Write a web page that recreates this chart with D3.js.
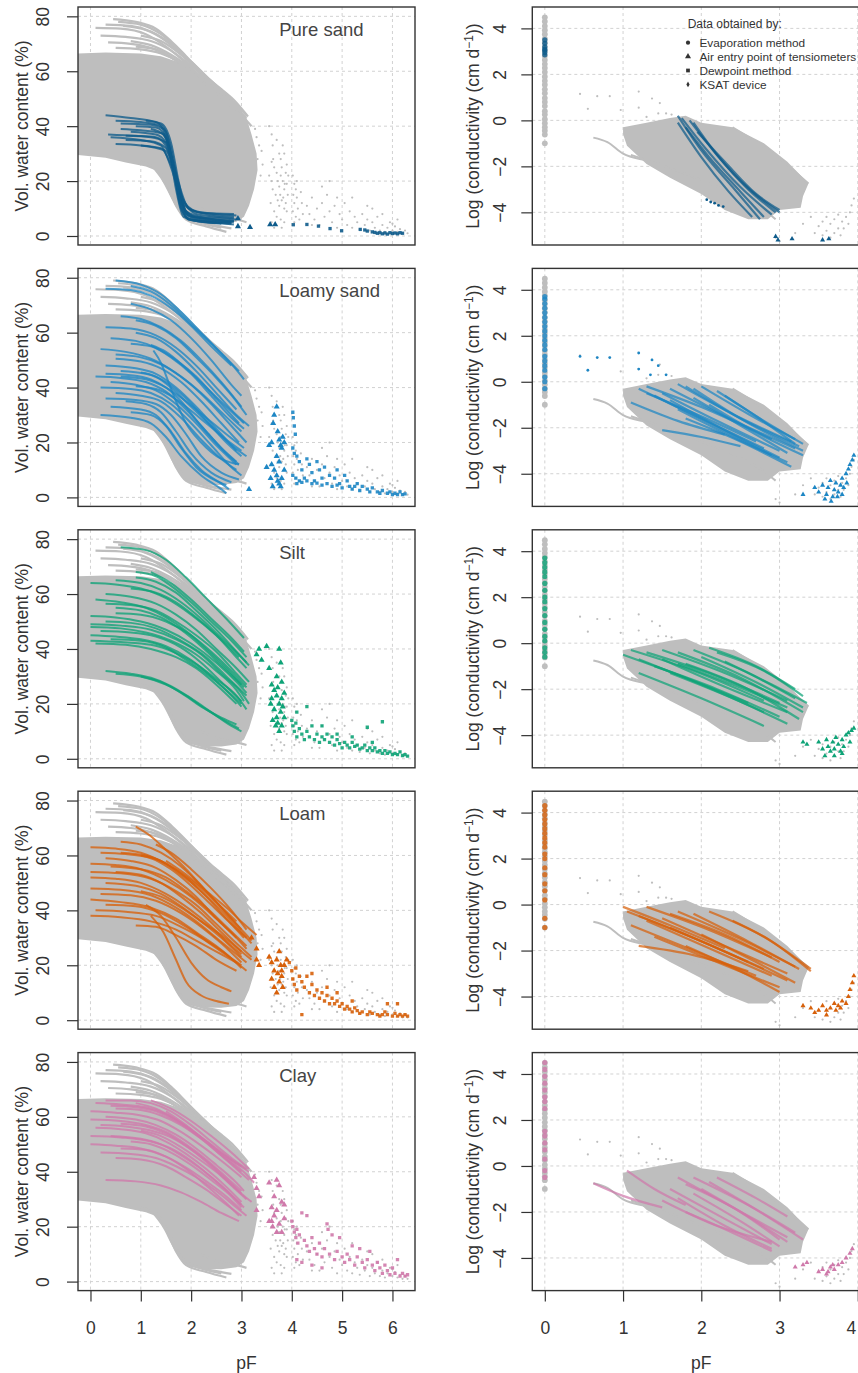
<!DOCTYPE html>
<html>
<head>
<meta charset="utf-8">
<script src="https://cdn.jsdelivr.net/npm/d3@7"></script>
<style>
  body { margin: 0; background: #fff; }
  svg { display: block; font-family: "Liberation Sans", Arial, sans-serif; }
</style>
</head>
<body>
<svg id="chart" width="858" height="1373"></svg>
<script>
// ---- tick labels and categories ----
const soilNames = ['Pure sand', 'Loamy sand', 'Silt', 'Loam', 'Clay']
const soilColors = ['#0e5b8b', '#1d86c4', '#0ea377', '#d7600a', '#cf79aa']
const pFTicksLeft = [0, 1, 2, 3, 4, 5, 6]
const thetaTicks = [0, 20, 40, 60, 80]
const pFTicksRight = [0, 1, 2, 3, 4]
const logKTicks = [-4, -2, 0, 2, 4]
const legendLabels = ['Evaporation method', 'Air entry point of tensiometers', 'Dewpoint method', 'KSAT device']

// ---- all soils (grey background), retention: [pF, theta %] ----
const greyRetentionBand = [[-0.25, 66.5], [0.3, 66.8], [1.0, 66.5], [1.4, 65.5], [1.8, 63], [2.2, 58], [2.6, 52], [2.9, 47], [3.1, 43], [3.2, 37], [3.3, 30], [3.32, 24], [3.25, 17], [3.15, 11], [3.05, 7], [2.9, 5.2], [2.6, 4.5], [2.2, 4.6], [1.95, 5.5], [1.8, 8], [1.65, 13], [1.5, 19], [1.35, 23.5], [1.1, 25.3], [0.7, 26.8], [0.3, 28.5], [-0.25, 29.5]]
const greyRetentionCurves = [
  [[0.45, 79], [0.9, 78], [1.3, 75.5], [1.6, 71], [1.9, 65.5], [2.3, 58], [2.6, 53.5], [2.85, 49.5], [3.13, 43.5]],
  [[0.55, 78], [1.0, 77], [1.4, 73.5], [1.8, 67], [2.2, 59.5], [2.6, 52.5], [2.95, 46]],
  [[0.1, 75.8], [0.6, 75.5], [1.1, 73.5], [1.5, 69], [1.9, 63], [2.3, 56], [2.7, 49], [3.05, 42]],
  [[0.65, 76.5], [1.1, 75], [1.5, 71], [1.9, 64.5], [2.3, 57], [2.75, 49], [3.0, 45]],
  [[0.35, 70.5], [0.8, 70], [1.2, 68.5], [1.6, 65], [2.0, 60], [2.4, 54], [2.8, 47]],
  [[0.8, 71], [1.2, 69.5], [1.6, 66], [2.1, 59.5], [2.6, 51], [3.0, 44.5]],
  [[0.9, 69], [1.3, 68], [1.7, 64], [2.1, 58], [2.5, 52], [2.9, 46], [3.2, 40]],
  [[0.2, 73], [0.7, 72.5], [1.2, 71], [1.6, 67.5], [2.0, 62], [2.4, 55.5], [2.8, 48.5], [3.1, 43]],
  [[0.5, 68.5], [1.0, 68], [1.4, 66.5], [1.8, 63], [2.2, 57.5], [2.6, 51], [3.0, 44]],
  [[1.0, 73], [1.4, 71], [1.8, 66], [2.2, 59.5], [2.6, 52], [3.0, 45]],
  [[0.3, 77], [0.8, 76.5], [1.2, 74.5], [1.6, 70], [2.0, 63.5], [2.4, 56.5], [2.8, 49.5], [3.1, 44]],
  [[1.3, 25], [1.5, 19], [1.7, 11], [1.9, 6], [2.3, 3.5], [2.7, 1.5]],
  [[1.2, 26], [1.45, 20], [1.65, 13], [1.85, 7.5], [2.2, 4.8], [2.6, 3]],
  [[1.0, 27], [1.35, 24], [1.6, 16], [1.8, 9], [2.1, 5.5], [2.5, 3.8], [2.8, 2.8]],
  [[2.2, 10], [2.6, 7], [2.9, 6], [3.1, 5]]
]
const greyRetentionPoints = [
  [3.27, 39], [3.3, 36], [3.35, 33], [3.4, 31], [3.32, 28], [3.42, 26], [3.38, 22],
  [3.55, 40], [3.6, 37], [3.62, 33], [3.7, 35], [3.75, 30], [3.78, 28], [3.82, 33], [3.85, 30], [3.6, 27], [3.65, 25], [3.7, 23], [3.72, 20], [3.75, 18], [3.78, 22], [3.8, 25], [3.82, 20], [3.85, 17], [3.88, 23], [3.9, 19], [3.92, 15], [3.6, 20], [3.62, 17], [3.68, 15], [3.72, 13], [3.75, 11], [3.8, 13], [3.85, 10], [3.88, 12], [3.9, 9], [3.58, 12], [3.65, 9], [3.7, 7], [3.78, 6], [3.85, 5], [3.6, 5], [3.65, 3], [3.8, 3], [3.55, 22], [3.63, 28], [3.77, 15], [3.83, 14], [3.86, 19], [3.9, 26], [3.93, 22],
  [4.02, 22], [4.05, 19], [4.08, 17], [4.03, 15], [4.1, 14], [4.05, 12], [4.12, 10], [4.02, 9], [4.08, 7], [4.15, 6], [4.05, 5], [4.2, 12], [4.22, 8], [4.18, 16], [4.1, 20],
  [4.3, 11], [4.35, 8], [4.4, 14], [4.45, 6], [4.5, 10], [4.55, 4], [4.6, 12], [4.65, 7], [4.7, 15], [4.75, 9], [4.8, 5], [4.85, 11], [4.9, 3], [4.95, 8], [5.0, 6], [5.05, 12], [5.1, 4], [5.15, 9], [5.2, 3], [5.25, 7], [5.3, 5], [5.35, 2.5], [5.4, 8], [5.45, 4], [5.5, 6], [5.55, 2], [5.6, 5], [5.65, 3], [5.7, 7], [5.75, 2], [5.8, 4], [5.85, 1.5], [5.9, 3], [5.95, 5], [6.0, 2], [6.05, 3.5], [6.1, 1.5], [6.15, 2.5], [6.2, 1], [6.25, 2], [6.3, 1], [4.75, 20], [4.6, 18], [5.2, 14], [5.5, 11], [5.8, 8], [6.1, 6], [4.4, 4], [4.9, 14], [5.6, 10], [6.0, 4.5]
]

// ---- all soils (grey background), conductivity: [pF, log K] ----
const greyKsat = [-1.0, -0.62, -0.45, -0.3, -0.12, 0.05, 0.25, 0.4, 0.62, 0.8, 0.97, 1.18, 1.35, 1.55, 1.72, 1.9, 2.1, 2.28, 2.45, 2.63, 2.8, 3.02, 3.2, 3.38, 3.55, 3.75, 3.92, 4.1, 4.3, 4.48]
const greyCondBand = [[1.0, -0.3], [1.3, -0.1], [1.6, 0.1], [1.8, 0.2], [2.0, -0.1], [2.4, -0.3], [2.8, -1.0], [3.1, -1.8], [3.37, -2.75], [3.3, -3.3], [3.27, -3.8], [3.0, -3.9], [2.85, -4.3], [2.6, -4.3], [2.3, -3.9], [2.0, -3.2], [1.6, -2.5], [1.3, -1.9], [1.05, -1.1], [1.0, -0.6]]
const greyCondLines = [
  [[0.62, -0.75], [0.8, -0.95], [1.0, -1.45], [1.3, -1.75], [1.55, -1.95]],
  [[2.4, -0.3], [2.9, -1.4], [3.37, -2.75]],
  [[1.1, -1.5], [2.0, -2.6], [2.8, -3.9], [2.95, -4.3]]
]
const greyCondPoints = [
  [0.45, 1.15], [0.55, 0.5], [0.67, 1.05], [0.83, 1.05], [0.97, 0.45], [1.2, 1.25], [1.2, 0.55], [1.37, 0.95], [1.47, 0.75], [1.45, 0.3], [1.55, 0.3], [1.62, 0.25], [1.3, 0.15],
  [3.5, -4.6], [3.55, -4.4], [3.6, -4.8], [3.65, -4.5], [3.7, -4.3], [3.75, -4.7], [3.8, -4.4], [3.85, -4.2], [3.9, -4.0], [3.92, -3.7], [3.95, -3.4], [3.55, -5.0], [3.65, -5.1], [3.7, -4.9], [3.78, -5.0], [3.82, -4.7], [3.88, -4.5], [3.4, -4.2], [3.3, -4.5], [3.45, -4.9], [2.95, -5.1], [3.0, -5.25], [3.2, -4.9], [3.6, -4.2], [3.75, -4.1]
]

// ---- Pure sand ----
const pureSandCurves = [
  [[0.3, 44], [0.8, 43], [1.3, 41.5], [1.5, 38], [1.65, 25], [1.8, 10], [2.0, 6], [2.8, 5]],
  [[0.5, 42], [1.0, 41.5], [1.35, 40.5], [1.55, 33], [1.7, 17], [1.85, 7], [2.3, 5], [2.8, 4.5]],
  [[0.6, 39], [1.0, 38.5], [1.4, 37.5], [1.6, 30], [1.75, 14], [1.95, 6], [2.5, 4.8], [2.85, 4.2]],
  [[0.35, 37], [0.9, 36.5], [1.3, 36], [1.55, 31], [1.75, 16], [1.95, 7.5], [2.4, 6], [2.85, 5.5]],
  [[0.7, 35], [1.2, 34.5], [1.5, 32], [1.65, 24], [1.8, 12], [2.0, 7], [2.5, 6], [2.85, 5]],
  [[0.9, 40], [1.3, 39.5], [1.5, 36], [1.7, 22], [1.9, 9], [2.2, 6], [2.8, 5]],
  [[0.4, 36], [1.0, 35], [1.4, 33], [1.6, 25], [1.8, 14], [2.1, 9], [2.5, 8], [2.9, 7.5]],
  [[1.0, 33], [1.4, 32], [1.6, 26], [1.85, 13], [2.1, 8], [2.5, 7], [2.85, 6.5]],
  [[0.6, 41], [1.2, 40.5], [1.45, 39], [1.6, 32], [1.75, 18], [1.9, 8], [2.2, 5.5], [2.8, 4.8]],
  [[0.8, 38], [1.3, 37], [1.5, 34], [1.7, 21], [1.85, 10], [2.1, 7], [2.6, 6.5], [2.9, 6]],
  [[1.1, 42], [1.4, 41], [1.6, 34], [1.75, 20], [1.9, 9], [2.3, 6.5], [2.85, 5.5]],
  [[0.5, 33.5], [1.0, 33], [1.5, 31], [1.7, 22], [1.95, 10], [2.3, 8], [2.85, 7]],
  [[1.2, 39], [1.45, 37], [1.62, 28], [1.78, 13], [1.95, 6], [2.6, 4.5]],
  [[0.7, 36.5], [1.2, 36], [1.5, 34], [1.68, 24], [1.88, 11], [2.2, 8.5], [2.85, 8]]
]
const pureSandAirEntry = [[2.93, 6.4], [2.93, 3.5], [3.17, 3.2], [3.57, 4.2], [3.67, 4.2]]
const pureSandDewpoint = [[4.03, 4.1], [4.3, 4.2], [4.53, 3.6], [4.76, 2.7], [4.99, 1.9], [5.36, 2.4], [5.45, 2.2], [5.5, 1.8], [5.6, 1.5], [5.65, 1.3], [5.7, 1], [5.75, 1.2], [5.8, 0.8], [5.85, 1.1], [5.9, 0.7], [5.95, 1.2], [6.0, 0.9], [6.05, 1.1], [6.1, 0.8], [6.15, 1.2], [6.2, 1]]
const pureSandKsat = [2.85, 2.95, 3.05, 3.1, 3.2, 3.35, 3.5]
const pureSandCondLines = [
  [[1.7, 0.2], [2.0, -1.3], [2.4, -2.9], [2.75, -4.3]],
  [[1.75, 0.1], [2.05, -1.2], [2.5, -2.9], [2.9, -4.1]],
  [[1.85, 0.0], [2.15, -1.3], [2.6, -3.0], [2.95, -4.0]],
  [[1.8, -0.3], [2.1, -1.6], [2.5, -3.1], [2.8, -4.2]],
  [[1.95, -0.5], [2.3, -1.8], [2.7, -3.2], [3.0, -3.9]],
  [[1.7, -0.1], [2.0, -1.6], [2.35, -3.1], [2.65, -4.2]],
  [[1.9, -0.1], [2.2, -1.5], [2.65, -3.1], [3.0, -4.0]]
]
const pureSandCondPoints = [[2.07, -3.45], [2.12, -3.55], [2.17, -3.6], [2.22, -3.7], [2.28, -3.75], [2.95, -5.05], [2.98, -5.2], [3.16, -5.15], [3.55, -5.2], [3.63, -5.15]]

// ---- Loamy sand ----
const loamySandCurves = [
  [[0.5, 79], [1.0, 77.5], [1.4, 74], [1.8, 67.5], [2.2, 60], [2.6, 52.5], [2.95, 46]],
  [[0.3, 76], [0.8, 75.5], [1.2, 73.5], [1.6, 69], [2.0, 62.5], [2.4, 55], [2.8, 48]],
  [[0.8, 77], [1.2, 75], [1.6, 70], [2.0, 63], [2.4, 56], [2.85, 47.5], [3.05, 43]],
  [[0.8, 70.5], [1.2, 68.5], [1.6, 64.5], [2.0, 58], [2.4, 50], [2.8, 41], [3.0, 37]],
  [[0.6, 66], [1.0, 65], [1.4, 62], [1.8, 57], [2.2, 50], [2.6, 42], [3.0, 33]],
  [[0.9, 64.5], [1.3, 62.5], [1.7, 58], [2.1, 51], [2.5, 43.5], [2.9, 35], [3.1, 30]],
  [[0.3, 62], [0.8, 61.5], [1.3, 59], [1.7, 54.5], [2.1, 48], [2.5, 40], [2.9, 32]],
  [[0.4, 58], [0.9, 57], [1.3, 54.5], [1.7, 50], [2.1, 44], [2.5, 36], [2.95, 27]],
  [[0.8, 56], [1.2, 55], [1.6, 51], [2.0, 45], [2.4, 37], [2.8, 29], [3.05, 25]],
  [[0.2, 54], [0.7, 53], [1.2, 50.5], [1.6, 46.5], [2.0, 41], [2.4, 34], [2.8, 26], [3.1, 20]],
  [[0.5, 50.5], [1.0, 49.5], [1.4, 47], [1.8, 42], [2.2, 35], [2.6, 27], [2.95, 20]],
  [[1.25, 53.5], [1.4, 49], [1.55, 42], [1.7, 35], [1.9, 27], [2.2, 20], [2.6, 14], [2.95, 12]],
  [[0.3, 48], [0.9, 47], [1.3, 45], [1.7, 40], [2.1, 33], [2.5, 25], [2.9, 17]],
  [[0.6, 46], [1.1, 45], [1.5, 42], [1.9, 36], [2.3, 28], [2.7, 20], [3.0, 15]],
  [[0.1, 44], [0.6, 43.5], [1.1, 42], [1.5, 38.5], [1.9, 32], [2.3, 24], [2.7, 16], [2.95, 12]],
  [[0.4, 42], [0.9, 41], [1.3, 39], [1.7, 34], [2.1, 27], [2.5, 19], [2.9, 12]],
  [[0.2, 40], [0.8, 39.5], [1.2, 38], [1.6, 34], [2.0, 27], [2.4, 19], [2.8, 11], [3.0, 8]],
  [[0.5, 38], [1.0, 37], [1.4, 35], [1.8, 29], [2.2, 21], [2.6, 14], [2.9, 10]],
  [[0.3, 36], [0.9, 35.5], [1.3, 34], [1.6, 30], [1.9, 23], [2.2, 15], [2.6, 9], [2.95, 6.5]],
  [[0.7, 35], [1.1, 34], [1.4, 31], [1.7, 24], [2.0, 16], [2.4, 9], [2.8, 5.5]],
  [[0.4, 33], [1.0, 32], [1.3, 30], [1.6, 24], [1.9, 16], [2.2, 10], [2.6, 5], [2.75, 3]],
  [[0.8, 31], [1.2, 30], [1.5, 26], [1.8, 18], [2.1, 11], [2.5, 6], [2.7, 4.5]],
  [[0.2, 30], [0.8, 29], [1.2, 27], [1.5, 22], [1.8, 15], [2.2, 8], [2.6, 3], [2.7, 1.5]],
  [[1.0, 45.5], [1.3, 44], [1.6, 40], [2.0, 33], [2.4, 26], [2.8, 19], [3.1, 15]],
  [[0.6, 44], [1.1, 43], [1.5, 40], [1.9, 35], [2.3, 29], [2.7, 23], [3.05, 18]],
  [[0.9, 60], [1.3, 58], [1.7, 53], [2.1, 46], [2.5, 38], [2.9, 30], [3.15, 26]],
  [[0.5, 52], [1.0, 51], [1.4, 48.5], [1.8, 44], [2.2, 38], [2.6, 31], [3.0, 24]],
  [[0.9, 40.5], [1.3, 39.5], [1.6, 37], [1.9, 33], [2.3, 27], [2.7, 21], [3.0, 17]],
  [[0.3, 45], [0.8, 44.5], [1.2, 43], [1.5, 40], [1.8, 35], [2.2, 26], [2.6, 18], [2.9, 13]],
  [[1.2, 55.5], [1.5, 53], [1.9, 47], [2.3, 40], [2.7, 33], [3.05, 27]]
]
const loamySandAirEntry = [[3.15, 3], [3.5, 11], [3.55, 19], [3.6, 20], [3.63, 27], [3.65, 30], [3.7, 33], [3.72, 24], [3.75, 21], [3.78, 19], [3.8, 18], [3.82, 22], [3.85, 20], [3.6, 12], [3.65, 10], [3.7, 8], [3.72, 6], [3.75, 5], [3.78, 4], [3.8, 7], [3.85, 10], [3.7, 15], [3.75, 13], [3.58, 7], [3.62, 4]]
const loamySandDewpoint = [[4.02, 31], [4.03, 29], [4.05, 26], [4.07, 23], [4.02, 18], [4.05, 16], [4.1, 15], [4.15, 13], [4.02, 8], [4.08, 7], [4.15, 6], [4.2, 10], [4.25, 7], [4.3, 14], [4.35, 12], [4.4, 9], [4.45, 6], [4.5, 13], [4.55, 10], [4.6, 7], [4.65, 11], [4.7, 5], [4.75, 8], [4.8, 4], [4.85, 7], [4.9, 10], [4.95, 5], [5.0, 3.5], [5.05, 8], [5.1, 6], [5.15, 4], [5.2, 3], [5.3, 5], [5.35, 2.5], [5.4, 4], [5.5, 3], [5.55, 2], [5.6, 3.5], [5.7, 2], [5.75, 1.5], [5.8, 2.5], [5.9, 1.5], [5.95, 2], [6.0, 1], [6.05, 1.5], [6.1, 1], [6.15, 2], [6.2, 1], [6.25, 1.3], [4.1, 5], [4.2, 5.5], [4.4, 5], [4.6, 4.5], [4.9, 4.5], [5.25, 4], [4.3, 6], [4.5, 5.2]]
const loamySandKsat = [-0.3, 0.0, 0.2, 0.5, 0.7, 0.9, 1.1, 1.4, 1.6, 1.8, 2.0, 2.2, 2.4, 2.6, 2.8, 3.0, 3.2, 3.4, 3.6, 3.7]
const loamySandCondLines = [
  [[1.6, -0.3], [2.3, -1.5], [3.2, -2.9]],
  [[1.7, -0.1], [2.4, -1.4], [3.15, -2.6]],
  [[1.5, -0.5], [2.2, -1.7], [3.0, -3.0]],
  [[1.4, -0.6], [2.1, -1.8], [2.9, -3.2]],
  [[1.8, -0.2], [2.5, -1.6], [3.25, -2.8]],
  [[1.9, -0.3], [2.6, -1.8], [3.3, -3.0]],
  [[1.2, -0.3], [2.0, -1.6], [2.8, -2.9]],
  [[1.3, -0.5], [2.0, -1.5], [2.7, -2.6]],
  [[1.1, -0.9], [1.7, -1.7], [2.3, -2.3]],
  [[1.5, -2.1], [2.0, -2.4], [2.5, -2.8]],
  [[2.0, -0.2], [2.6, -1.4], [3.2, -2.5]],
  [[1.6, -0.8], [2.3, -2.1], [3.0, -3.3]],
  [[1.7, -1.2], [2.4, -2.4], [3.1, -3.5]],
  [[2.2, -0.4], [2.7, -1.5], [3.2, -2.7]],
  [[1.3, -0.2], [2.0, -1.1], [2.9, -2.5]],
  [[1.8, -1.6], [2.5, -2.6], [3.15, -3.7]],
  [[2.1, -1.0], [2.7, -2.2], [3.3, -3.2]],
  [[1.9, -0.7], [2.5, -1.9], [3.1, -3.1]],
  [[2.3, -0.6], [2.8, -1.7], [3.3, -2.7]]
]
const loamySandCondPoints = [[0.45, 1.1], [0.55, 0.5], [0.67, 1.05], [0.83, 1.05], [1.2, 1.25], [1.2, 0.55], [1.37, 0.95], [1.45, 0.7], [1.35, 0.3], [1.55, 0.3], [3.45, -4.6], [3.5, -4.8], [3.55, -4.5], [3.6, -4.9], [3.62, -4.6], [3.65, -4.3], [3.68, -5.0], [3.7, -4.7], [3.72, -4.4], [3.75, -4.8], [3.78, -4.5], [3.8, -4.2], [3.82, -4.6], [3.85, -4.0], [3.88, -3.8], [3.9, -3.6], [3.93, -3.4], [3.95, -3.2], [3.3, -4.9], [3.58, -5.1], [3.66, -5.2], [3.74, -5.0], [3.8, -4.9], [3.86, -4.4]]

// ---- Silt ----
const siltCurves = [
  [[0.6, 77], [1.1, 76], [1.5, 72.5], [1.9, 66], [2.3, 58.5], [2.7, 51], [3.05, 44]],
  [[0.9, 68], [1.3, 66.5], [1.6, 63], [2.0, 57], [2.4, 50], [2.8, 43], [3.1, 37]],
  [[0.5, 65], [1.0, 64], [1.4, 61.5], [1.8, 57], [2.2, 51], [2.6, 44], [3.0, 37], [3.15, 34]],
  [[0.0, 64], [0.5, 63.5], [1.0, 62], [1.5, 58.5], [2.0, 52.5], [2.5, 45], [2.95, 37]],
  [[0.3, 60], [0.8, 59], [1.3, 56.5], [1.7, 52.5], [2.1, 47], [2.5, 40], [2.9, 33], [3.15, 28]],
  [[0.1, 58], [0.6, 57], [1.1, 55], [1.5, 51.5], [1.9, 46.5], [2.3, 40], [2.7, 33], [3.05, 26]],
  [[0.5, 55], [1.0, 54], [1.4, 51.5], [1.8, 47], [2.2, 41], [2.6, 34], [3.0, 27]],
  [[0.0, 52], [0.5, 51.5], [1.0, 50], [1.5, 47], [2.0, 42], [2.5, 35], [2.9, 28], [3.1, 24]],
  [[0.3, 50], [0.8, 49.5], [1.3, 47.5], [1.8, 43], [2.3, 37], [2.7, 30], [3.1, 23]],
  [[0.0, 48], [0.6, 47.5], [1.1, 46], [1.6, 43], [2.1, 38], [2.5, 32], [2.9, 25], [3.05, 21]],
  [[0.2, 46.5], [0.8, 46], [1.3, 44.5], [1.8, 40.5], [2.2, 35], [2.6, 28], [3.0, 21]],
  [[0.0, 45], [0.5, 44.5], [1.0, 43.5], [1.5, 41], [2.0, 36], [2.4, 30], [2.8, 23], [3.0, 19]],
  [[0.4, 43.5], [1.0, 43], [1.5, 40.5], [1.9, 36], [2.3, 31], [2.7, 25], [3.0, 20]],
  [[0.1, 42], [0.7, 41.5], [1.2, 40], [1.7, 37], [2.1, 33], [2.5, 27], [2.9, 20]],
  [[0.3, 32], [0.8, 31], [1.2, 29.5], [1.6, 26.5], [2.0, 22], [2.4, 17], [2.8, 12], [3.0, 10]],
  [[0.5, 31], [1.0, 30], [1.5, 27], [1.9, 23], [2.3, 18], [2.7, 13.5], [2.95, 11]],
  [[1.0, 30], [1.4, 28], [1.8, 24], [2.2, 19], [2.6, 15], [2.9, 12.5]],
  [[0.3, 56.5], [0.8, 56], [1.3, 54], [1.7, 50], [2.1, 45], [2.5, 39], [2.9, 31], [3.1, 27]],
  [[0.9, 66], [1.3, 64.5], [1.7, 60.5], [2.1, 54], [2.5, 47], [2.9, 39], [3.1, 35]],
  [[1.2, 68], [1.6, 64], [2.0, 58], [2.4, 51], [2.8, 44], [3.05, 39]],
  [[0.0, 49], [0.6, 48.5], [1.2, 47], [1.7, 43.5], [2.2, 38], [2.6, 31], [3.0, 24], [3.15, 20]],
  [[0.0, 43], [0.6, 42.5], [1.2, 41.5], [1.7, 38.5], [2.1, 34.5], [2.5, 29], [2.9, 23], [3.1, 18]],
  [[0.5, 53], [1.0, 52.5], [1.5, 50], [2.0, 45], [2.4, 39], [2.8, 32], [3.1, 26]],
  [[0.8, 62], [1.3, 60.5], [1.7, 57], [2.1, 51.5], [2.5, 45], [2.9, 37], [3.1, 33]]
]
const siltAirEntry = [[3.3, 38], [3.35, 40], [3.4, 36], [3.5, 41], [3.55, 33], [3.6, 27], [3.65, 25], [3.7, 30], [3.75, 40], [3.78, 35], [3.8, 28], [3.6, 22], [3.65, 18], [3.7, 15], [3.72, 13], [3.75, 20], [3.78, 17], [3.8, 22], [3.82, 19], [3.85, 24], [3.62, 14], [3.68, 12], [3.75, 10], [3.8, 12], [3.85, 15], [3.7, 23], [3.58, 20], [3.72, 26]]
const siltDewpoint = [[4.0, 14], [4.02, 12], [4.05, 10], [4.08, 13], [4.1, 8], [4.15, 11], [4.2, 9], [4.25, 7], [4.3, 10], [4.35, 8], [4.4, 12], [4.45, 7], [4.5, 9], [4.55, 6], [4.6, 8], [4.65, 7], [4.7, 9], [4.75, 6], [4.8, 8], [4.85, 5], [4.9, 7], [4.95, 5.5], [5.0, 4], [5.05, 6], [5.1, 5], [5.15, 4], [5.2, 6], [5.25, 4.5], [5.3, 5], [5.35, 3.5], [5.4, 4], [5.45, 5], [5.5, 3], [5.55, 4], [5.6, 3], [5.65, 4], [5.7, 2.5], [5.75, 3], [5.8, 13.5], [5.8, 2], [5.85, 3], [5.9, 2], [5.95, 2.5], [6.0, 1.5], [6.05, 2], [6.1, 1.5], [6.15, 2.5], [6.2, 1.2], [6.25, 1.5], [6.3, 1], [5.5, 11.5], [4.3, 19], [4.1, 17], [4.6, 12], [4.9, 9], [5.6, 6], [5.2, 8]]
const siltKsat = [-0.6, -0.4, -0.2, 0.1, 0.3, 0.6, 0.9, 1.2, 1.5, 1.8, 2.0, 2.3, 2.6, 2.9, 3.1, 3.3, 3.5, 3.7]
const siltCondLines = [
  [[1.0, -0.5], [1.8, -1.5], [2.6, -2.6]],
  [[1.1, -0.3], [1.9, -1.2], [2.8, -2.5]],
  [[1.2, -0.7], [2.0, -1.8], [2.8, -3.0]],
  [[1.3, -0.4], [2.1, -1.3], [3.0, -2.6]],
  [[1.5, -0.3], [2.3, -1.3], [3.1, -2.5]],
  [[1.7, -0.4], [2.5, -1.5], [3.3, -3.0]],
  [[1.9, -0.3], [2.6, -1.3], [3.2, -2.4]],
  [[2.2, -0.4], [2.8, -1.2], [3.3, -2.3]],
  [[1.4, -1.0], [2.2, -2.0], [3.0, -3.2]],
  [[1.6, -1.3], [2.4, -2.4], [3.1, -3.5]],
  [[1.2, -1.3], [2.0, -2.4], [2.8, -3.6]],
  [[1.8, -0.9], [2.6, -2.0], [3.25, -3.3]],
  [[2.0, -0.6], [2.7, -1.7], [3.3, -2.8]],
  [[1.5, -0.7], [2.3, -1.9], [3.1, -3.0]],
  [[2.3, -0.8], [2.9, -1.8], [3.35, -2.6]],
  [[1.7, -0.9], [2.4, -1.8], [3.1, -2.8]],
  [[2.1, -0.2], [2.7, -1.0], [3.2, -2.0]]
]
const siltCondPoints = [[3.3, -4.3], [3.35, -4.4], [3.5, -4.3], [3.55, -4.6], [3.6, -4.2], [3.62, -4.5], [3.65, -4.7], [3.68, -4.3], [3.7, -4.6], [3.72, -4.1], [3.75, -4.4], [3.78, -4.7], [3.8, -4.2], [3.82, -4.5], [3.85, -4.0], [3.88, -3.9], [3.9, -4.3], [3.92, -3.8], [3.95, -3.7], [3.58, -4.9], [3.7, -4.9], [3.8, -4.8]]

// ---- Loam ----
const loamCurves = [
  [[0.9, 70.5], [1.2, 67], [1.5, 62], [1.9, 55], [2.3, 47], [2.7, 39], [3.0, 33]],
  [[0.6, 65], [1.0, 64], [1.4, 61], [1.8, 56], [2.2, 49], [2.6, 41], [3.0, 33], [3.2, 29]],
  [[0.0, 63], [0.5, 62.5], [1.0, 61], [1.5, 57], [2.0, 51], [2.5, 43], [2.9, 36]],
  [[1.0, 60], [1.4, 58], [1.8, 53], [2.2, 47], [2.6, 40], [3.0, 32], [3.2, 28]],
  [[0.3, 59], [0.8, 58], [1.3, 55.5], [1.7, 51], [2.1, 45], [2.5, 37], [2.9, 30], [3.1, 26]],
  [[0.0, 57], [0.5, 56.5], [1.0, 55], [1.5, 51], [2.0, 45], [2.5, 37], [2.9, 30]],
  [[0.5, 54], [1.0, 53], [1.4, 50], [1.8, 45], [2.2, 39], [2.6, 32], [3.0, 25]],
  [[0.0, 52], [0.5, 51.5], [1.0, 50], [1.5, 46], [2.0, 40], [2.4, 34], [2.8, 27], [3.0, 24]],
  [[0.3, 50], [0.9, 49], [1.4, 46], [1.8, 41.5], [2.2, 36], [2.6, 30], [3.0, 23]],
  [[0.0, 48], [0.6, 47.5], [1.2, 45.5], [1.7, 41], [2.1, 36], [2.5, 30], [2.9, 24], [3.1, 21]],
  [[0.2, 46], [0.8, 45.5], [1.3, 43.5], [1.8, 39], [2.2, 34], [2.6, 28], [3.0, 21]],
  [[0.0, 44], [0.6, 43], [1.2, 41], [1.7, 37], [2.1, 32], [2.5, 27], [2.9, 21], [3.1, 18]],
  [[0.3, 42], [0.9, 41.5], [1.4, 39], [1.9, 34], [2.3, 29], [2.7, 24], [3.0, 19]],
  [[0.1, 40], [0.7, 39.5], [1.3, 38], [1.8, 34], [2.2, 30], [2.6, 25], [3.0, 20]],
  [[0.9, 34.5], [1.3, 34], [1.7, 31], [2.1, 27], [2.5, 22], [2.9, 18]],
  [[1.1, 42], [1.4, 38], [1.7, 30], [2.0, 21], [2.3, 15], [2.6, 12], [2.8, 10.5]],
  [[1.2, 38], [1.45, 32], [1.7, 22], [1.9, 14], [2.2, 9], [2.5, 7], [2.75, 6]],
  [[0.6, 61], [1.1, 60], [1.5, 57], [1.9, 52], [2.3, 45], [2.7, 37], [3.05, 30]],
  [[1.3, 64], [1.6, 61], [2.0, 55], [2.4, 48], [2.8, 40], [3.1, 33]],
  [[0.0, 54], [0.6, 53.5], [1.2, 51.5], [1.7, 47], [2.1, 42], [2.5, 35], [2.9, 28], [3.2, 23]],
  [[0.4, 56], [1.0, 55], [1.5, 52], [1.9, 47], [2.3, 41], [2.7, 34], [3.1, 27]],
  [[1.0, 47], [1.4, 45], [1.8, 41], [2.2, 36], [2.6, 31], [3.0, 25], [3.2, 22]],
  [[0.0, 38], [0.6, 37.5], [1.2, 36], [1.7, 33], [2.1, 29], [2.5, 25], [2.9, 21]],
  [[1.5, 58], [1.9, 53], [2.3, 47], [2.7, 41], [3.05, 35], [3.3, 31]],
  [[0.2, 61], [0.7, 60.5], [1.2, 59], [1.6, 55], [2.0, 49], [2.4, 42], [2.8, 35], [3.1, 30]]
]
const loamAirEntry = [[3.2, 30], [3.3, 26], [3.3, 22], [3.35, 20], [3.55, 23], [3.6, 21], [3.65, 18], [3.7, 22], [3.75, 25], [3.78, 20], [3.8, 18], [3.6, 15], [3.65, 12], [3.7, 10], [3.75, 14], [3.8, 16], [3.85, 20], [3.9, 22], [3.82, 12], [3.72, 17]]
const loamDewpoint = [[3.95, 21], [4.0, 18], [4.02, 15], [4.05, 13], [4.08, 19], [4.1, 11], [4.15, 16], [4.2, 14], [4.25, 12], [4.3, 16], [4.35, 10], [4.4, 13], [4.45, 9], [4.5, 11], [4.55, 8], [4.6, 10], [4.65, 7], [4.7, 9], [4.75, 6], [4.8, 8], [4.85, 6], [4.9, 7], [4.95, 5], [5.0, 6], [5.05, 4], [5.1, 5], [5.15, 4], [5.2, 3], [5.25, 4.5], [5.3, 3.5], [5.35, 2.5], [5.4, 3], [5.5, 2], [5.55, 3], [5.6, 2.5], [5.7, 2], [5.75, 1.5], [5.8, 2], [5.85, 3], [5.9, 2], [6.0, 1.5], [6.05, 2.5], [6.1, 1.5], [6.15, 2], [6.2, 1.5], [6.25, 2], [6.3, 1.5], [4.2, 2], [4.9, 10], [5.9, 6], [6.1, 6], [4.4, 17], [4.7, 12], [5.2, 7]]
const loamKsat = [-1.0, -0.6, 0.2, 0.6, 0.9, 1.3, 1.6, 2.0, 2.2, 2.5, 2.7, 2.9, 3.1, 3.3, 3.5, 3.7, 3.9, 4.1, 4.3]
const loamCondLines = [
  [[1.05, -0.3], [1.8, -1.3], [2.6, -2.5]],
  [[1.2, -0.5], [2.0, -1.6], [2.8, -2.8]],
  [[1.3, -0.1], [2.1, -1.1], [2.9, -2.3]],
  [[1.5, -0.6], [2.3, -1.8], [3.1, -3.0]],
  [[1.7, -0.3], [2.5, -1.5], [3.2, -2.7]],
  [[1.1, -0.9], [1.9, -2.0], [2.7, -3.1]],
  [[1.4, -1.4], [2.2, -2.5], [3.0, -3.6]],
  [[1.2, -1.8], [1.9, -2.2], [2.6, -2.9]],
  [[1.9, -0.4], [2.6, -1.6], [3.25, -2.8]],
  [[2.1, -0.3], [2.8, -1.4], [3.4, -2.8]],
  [[1.6, -1.0], [2.4, -2.2], [3.1, -3.3]],
  [[2.0, -1.3], [2.7, -2.5], [3.2, -3.4]],
  [[1.8, -1.8], [2.5, -2.9], [3.0, -3.8]],
  [[1.0, -0.1], [1.6, -0.9], [2.3, -1.9]],
  [[2.4, -0.7], [2.9, -1.6], [3.4, -2.9]],
  [[1.3, -0.7], [2.1, -1.9], [2.9, -3.1]],
  [[1.6, -0.4], [2.3, -1.3], [3.0, -2.5]]
]
const loamCondPoints = [[3.3, -4.4], [3.4, -4.5], [3.5, -4.6], [3.55, -4.4], [3.6, -4.8], [3.65, -4.5], [3.7, -4.3], [3.72, -4.6], [3.75, -4.4], [3.8, -4.2], [3.85, -4.3], [3.88, -4.0], [3.9, -3.7], [3.93, -3.4], [3.95, -3.1], [3.45, -4.7], [3.78, -4.5], [3.6, -4.6]]

// ---- Clay ----
const clayCurves = [
  [[0.3, 66], [0.8, 66], [1.2, 65], [1.6, 62], [2.0, 57], [2.4, 51], [2.8, 45], [3.1, 41]],
  [[0.1, 65], [0.6, 64.5], [1.1, 63.5], [1.5, 61], [1.9, 56.5], [2.3, 51], [2.7, 45.5], [3.0, 42]],
  [[0.5, 63], [1.0, 62.5], [1.4, 60.5], [1.8, 57], [2.2, 52], [2.6, 46], [3.0, 40]],
  [[0.0, 62], [0.5, 61.5], [1.0, 60.5], [1.4, 58.5], [1.8, 54.5], [2.2, 49.5], [2.6, 44], [3.0, 38]],
  [[0.3, 60], [0.9, 59], [1.3, 57], [1.7, 53.5], [2.1, 48.5], [2.5, 42.5], [2.9, 36], [3.05, 33]],
  [[0.0, 59], [0.6, 58.5], [1.1, 57], [1.5, 54.5], [1.9, 50], [2.3, 44.5], [2.7, 38], [3.0, 33]],
  [[0.6, 57.5], [1.1, 56.5], [1.5, 54], [1.9, 49.5], [2.3, 44], [2.7, 37.5], [3.0, 32]],
  [[0.1, 56], [0.6, 55.5], [1.1, 54], [1.5, 51], [1.9, 46.5], [2.3, 41], [2.7, 34.5], [3.0, 29]],
  [[0.4, 53], [1.0, 52], [1.4, 50], [1.8, 46], [2.2, 41], [2.6, 35], [3.0, 28]],
  [[0.0, 50], [0.5, 49.5], [1.0, 48.5], [1.5, 45.5], [1.9, 41.5], [2.3, 36.5], [2.7, 31], [3.0, 26]],
  [[0.6, 48.5], [1.1, 48], [1.5, 45.5], [1.9, 41], [2.3, 35], [2.7, 28.5], [2.95, 24]],
  [[0.3, 37], [0.9, 36.5], [1.4, 35], [1.8, 32.5], [2.2, 29], [2.6, 25], [2.95, 22]],
  [[0.9, 65], [1.3, 63], [1.7, 59], [2.1, 54], [2.5, 48.5], [2.9, 43], [3.15, 40]],
  [[1.2, 66], [1.6, 63], [2.0, 58.5], [2.4, 53], [2.8, 47], [3.15, 41]],
  [[0.2, 57], [0.7, 56.5], [1.2, 55], [1.6, 52.5], [2.0, 48], [2.4, 42], [2.8, 35], [3.1, 30]],
  [[0.0, 53], [0.6, 52.5], [1.2, 51], [1.6, 48.5], [2.0, 44], [2.4, 38], [2.8, 31.5], [3.05, 27]],
  [[0.8, 51], [1.2, 50], [1.6, 47], [2.0, 42.5], [2.4, 37], [2.8, 31], [3.0, 27]],
  [[0.2, 47], [0.8, 46.5], [1.3, 45], [1.7, 42], [2.1, 38], [2.5, 33], [2.9, 27], [3.1, 24]],
  [[0.5, 45], [1.0, 44.5], [1.5, 42], [1.9, 38], [2.3, 33.5], [2.7, 28], [3.0, 24]],
  [[1.5, 62], [1.9, 57], [2.3, 51], [2.7, 45], [3.1, 39], [3.25, 36]],
  [[0.4, 64], [0.9, 63.5], [1.3, 62], [1.7, 58.5], [2.1, 53.5], [2.5, 47.5], [2.9, 41], [3.15, 37]],
  [[1.0, 55], [1.4, 53], [1.8, 49], [2.2, 44], [2.6, 38.5], [3.0, 32], [3.2, 29]]
]
const clayAirEntry = [[3.25, 38], [3.3, 34], [3.35, 31], [3.3, 26], [3.55, 36], [3.65, 31], [3.7, 37], [3.75, 35], [3.8, 29], [3.85, 28], [3.6, 22], [3.62, 20], [3.65, 24], [3.7, 26], [3.55, 22], [3.75, 21], [3.8, 18], [3.85, 23], [3.7, 18], [3.6, 27]]
const clayDewpoint = [[4.0, 22], [4.02, 20], [4.05, 18], [4.08, 16], [4.1, 19], [4.12, 14], [4.15, 17], [4.2, 25], [4.25, 15], [4.3, 24], [4.3, 13], [4.35, 11], [4.4, 16], [4.45, 12], [4.5, 10], [4.55, 14], [4.6, 9], [4.65, 12], [4.7, 21], [4.72, 19], [4.75, 10], [4.8, 17], [4.85, 8], [4.9, 11], [4.95, 16], [5.0, 9], [5.05, 7], [5.1, 10], [5.15, 8], [5.2, 13], [5.25, 6], [5.3, 9], [5.35, 12], [5.4, 7], [5.45, 5], [5.5, 8], [5.55, 11], [5.6, 6], [5.65, 4], [5.7, 7], [5.75, 5], [5.8, 3], [5.85, 6], [5.9, 4], [5.95, 2.5], [6.0, 5], [6.05, 3], [6.1, 8], [6.15, 2], [6.2, 3], [6.25, 2], [6.3, 2.5], [4.1, 8], [4.2, 7], [4.4, 6], [4.6, 5]]
const clayKsat = [-0.5, -0.2, 0.3, 0.7, 1.0, 1.3, 1.5, 2.5, 2.8, 3.0, 3.3, 3.6, 3.9, 4.2, 4.5]
const clayCondLines = [
  [[0.62, -0.75], [1.0, -1.3], [1.5, -1.8]],
  [[1.05, -0.2], [1.4, -1.0], [1.8, -1.7]],
  [[1.7, -0.5], [2.4, -1.8], [3.1, -3.1]],
  [[1.8, -0.8], [2.5, -2.0], [3.0, -3.2]],
  [[1.9, -0.5], [2.6, -1.7], [3.2, -2.9]],
  [[1.6, -1.0], [2.3, -2.3], [2.9, -3.4]],
  [[2.0, -1.0], [2.6, -2.2], [3.1, -3.3]],
  [[1.7, -1.4], [2.3, -2.6], [2.9, -3.6]],
  [[2.1, -0.7], [2.7, -1.9], [3.3, -3.2]],
  [[1.5, -1.5], [2.2, -2.6], [2.9, -3.3]],
  [[1.8, -2.0], [2.4, -2.9], [2.9, -3.7]],
  [[2.2, -0.5], [2.7, -1.4], [3.1, -2.2]],
  [[1.9, -1.2], [2.5, -2.4], [3.0, -3.5]]
]
const clayCondPoints = [[3.2, -4.4], [3.3, -4.3], [3.35, -4.2], [3.5, -4.6], [3.55, -4.5], [3.6, -4.7], [3.65, -4.4], [3.7, -4.5], [3.75, -4.3], [3.8, -4.2], [3.85, -4.0], [3.9, -3.8], [3.93, -3.6], [3.62, -4.6], [3.68, -4.3]]

const panels = [
  { curves: pureSandCurves, airEntry: pureSandAirEntry, dewpoint: pureSandDewpoint, ksat: pureSandKsat, condLines: pureSandCondLines, condPoints: pureSandCondPoints },
  { curves: loamySandCurves, airEntry: loamySandAirEntry, dewpoint: loamySandDewpoint, ksat: loamySandKsat, condLines: loamySandCondLines, condPoints: loamySandCondPoints },
  { curves: siltCurves, airEntry: siltAirEntry, dewpoint: siltDewpoint, ksat: siltKsat, condLines: siltCondLines, condPoints: siltCondPoints },
  { curves: loamCurves, airEntry: loamAirEntry, dewpoint: loamDewpoint, ksat: loamKsat, condLines: loamCondLines, condPoints: loamCondPoints },
  { curves: clayCurves, airEntry: clayAirEntry, dewpoint: clayDewpoint, ksat: clayKsat, condLines: clayCondLines, condPoints: clayCondPoints }
]

// ---- layout ----
const grey = '#bebebe'
const ink = '#333'
const left = { x0: 78, x1: 415 }
const right = { x0: 532.3, x1: 870.3 }
const firstZero = 236
const panelStep = 261.4

const svg = d3.select('#chart')
const defs = svg.append('defs')

const xL = d3.scaleLinear().domain([-0.248, 6.448]).range([left.x0, left.x1])
const xR = d3.scaleLinear().domain([-0.16, 4.16]).range([right.x0, right.x1])

const tri = d3.symbol(d3.symbolTriangle, 16)
const sq = d3.symbol(d3.symbolSquare, 11)
const smallTri = d3.symbol(d3.symbolTriangle, 11)

function grid (g, x, y, xs, ys, top, bottom) {
  const [gx0, gx1] = x.range()
  g.selectAll(null).data(xs).join('line')
    .attr('x1', d => x(d)).attr('x2', d => x(d))
    .attr('y1', top).attr('y2', bottom)
  g.selectAll(null).data(ys).join('line')
    .attr('x1', gx0).attr('x2', gx1)
    .attr('y1', d => y(d)).attr('y2', d => y(d))
  g.selectAll('line')
    .attr('stroke', '#d2d2d2')
    .attr('stroke-width', 1)
    .attr('stroke-dasharray', '3,3')
}

function yAxis (g, y, ticks, at, labelOffset) {
  const a = g.append('g')
    .attr('transform', `translate(${at},0)`)
    .call(d3.axisLeft(y).tickValues(ticks).tickFormat(d3.format('d')).tickSize(11).tickSizeOuter(0))
  a.select('.domain').remove()
  a.selectAll('line').attr('stroke', ink).attr('stroke-width', 1.2)
  a.selectAll('text')
    .attr('x', 0).attr('y', 0).attr('dy', '0.35em')
    .attr('text-anchor', 'middle')
    .attr('transform', `translate(${-labelOffset},0) rotate(-90)`)
    .attr('font-size', 17.5)
    .attr('font-family', '"Liberation Sans", Arial, sans-serif')
    .attr('fill', ink)
}

function xAxis (g, x, ticks, at) {
  const a = g.append('g')
    .attr('transform', `translate(0,${at})`)
    .call(d3.axisBottom(x).tickValues(ticks).tickFormat(d3.format('d')).tickSize(11).tickSizeOuter(0))
  a.select('.domain').remove()
  a.selectAll('line').attr('stroke', ink).attr('stroke-width', 1.2)
  a.selectAll('text')
    .attr('y', 31)
    .attr('font-size', 17.5)
    .attr('font-family', '"Liberation Sans", Arial, sans-serif')
    .attr('fill', ink)
  return a
}

function rotatedTitle (g, x, y, text) {
  return g.append('text')
    .attr('transform', `translate(${x},${y}) rotate(-90)`)
    .attr('dy', '0.35em')
    .attr('text-anchor', 'middle')
    .attr('font-size', 17.5)
    .attr('fill', ink)
    .text(text)
}

panels.forEach((p, i) => {
  const zero = firstZero + i * panelStep
  const top = zero - 229
  const bottom = zero + 9
  const color = soilColors[i]
  const isLast = i === panels.length - 1

  // ---------- retention (left) ----------
  const yL = d3.scaleLinear().domain([-3.28, 83.4]).range([bottom, top])
  const lineL = d3.line().x(d => xL(d[0])).y(d => yL(d[1])).curve(d3.curveMonotoneX)
  const polyL = d3.line().x(d => xL(d[0])).y(d => yL(d[1])).curve(d3.curveLinearClosed)

  defs.append('clipPath').attr('id', `clipL${i}`)
    .append('rect').attr('x', left.x0).attr('y', top)
    .attr('width', left.x1 - left.x0).attr('height', bottom - top)

  const gl = svg.append('g')
  grid(gl.append('g'), xL, yL, pFTicksLeft, thetaTicks, top, bottom)

  const pl = gl.append('g').attr('clip-path', `url(#clipL${i})`)
  pl.append('path').datum(greyRetentionBand)
    .attr('d', polyL).attr('fill', grey)
  pl.append('g').selectAll('path').data(greyRetentionCurves).join('path')
    .attr('d', lineL).attr('fill', 'none').attr('stroke', grey).attr('stroke-width', 2.2)
  pl.append('g').selectAll('circle').data(greyRetentionPoints).join('circle')
    .attr('cx', d => xL(d[0])).attr('cy', d => yL(d[1])).attr('r', 1.1).attr('fill', grey)

  pl.append('g').selectAll('path').data(p.curves).join('path')
    .attr('d', lineL).attr('fill', 'none')
    .attr('stroke', color).attr('stroke-width', 2).attr('stroke-opacity', 0.78)
  pl.append('g').selectAll('path').data(p.airEntry).join('path')
    .attr('d', tri).attr('transform', d => `translate(${xL(d[0])},${yL(d[1])})`)
    .attr('fill', color)
  pl.append('g').selectAll('path').data(p.dewpoint).join('path')
    .attr('d', sq).attr('transform', d => `translate(${xL(d[0])},${yL(d[1])})`)
    .attr('fill', color).attr('fill-opacity', 0.9)

  gl.append('rect')
    .attr('x', left.x0).attr('y', top)
    .attr('width', left.x1 - left.x0).attr('height', bottom - top)
    .attr('fill', 'none').attr('stroke', ink).attr('stroke-width', 1.4)

  yAxis(gl, yL, thetaTicks, left.x0, 35)
  rotatedTitle(gl, 22, (top + bottom) / 2, 'Vol. water content (%)')

  gl.append('text')
    .attr('x', xL(3.75)).attr('y', zero - 200)
    .attr('font-size', 18.5).attr('fill', '#444')
    .text(soilNames[i])

  // ---------- conductivity (right) ----------
  const yR = d3.scaleLinear().domain([-5.42, 4.93]).range([bottom, top])
  const lineR = d3.line().x(d => xR(d[0])).y(d => yR(d[1])).curve(d3.curveMonotoneX)
  const polyR = d3.line().x(d => xR(d[0])).y(d => yR(d[1])).curve(d3.curveLinearClosed)

  defs.append('clipPath').attr('id', `clipR${i}`)
    .append('rect').attr('x', right.x0).attr('y', top)
    .attr('width', right.x1 - right.x0).attr('height', bottom - top)

  const gr = svg.append('g')
  grid(gr.append('g'), xR, yR, pFTicksRight, logKTicks, top, bottom)

  const pr = gr.append('g').attr('clip-path', `url(#clipR${i})`)
  pr.append('path').datum(greyCondBand).attr('d', polyR).attr('fill', grey)
  pr.append('g').selectAll('path').data(greyCondLines).join('path')
    .attr('d', lineR).attr('fill', 'none').attr('stroke', grey).attr('stroke-width', 2)
  pr.append('g').selectAll('circle').data(greyCondPoints).join('circle')
    .attr('cx', d => xR(d[0])).attr('cy', d => yR(d[1])).attr('r', 1.1).attr('fill', grey)
  pr.append('g').selectAll('circle').data(greyKsat).join('circle')
    .attr('cx', xR(0)).attr('cy', d => yR(d)).attr('r', 2.9).attr('fill', grey)

  pr.append('g').selectAll('path').data(p.condLines).join('path')
    .attr('d', lineR).attr('fill', 'none')
    .attr('stroke', color).attr('stroke-width', 2.2).attr('stroke-opacity', 0.72)
  // evaporation points (low pF) as small dots, air-entry points (high pF) as triangles
  pr.append('g').selectAll('circle').data(p.condPoints.filter(d => d[0] < 2.9)).join('circle')
    .attr('cx', d => xR(d[0])).attr('cy', d => yR(d[1])).attr('r', 1.4)
    .attr('fill', color)
  pr.append('g').selectAll('path').data(p.condPoints.filter(d => d[0] >= 2.9)).join('path')
    .attr('d', smallTri)
    .attr('transform', d => `translate(${xR(d[0])},${yR(d[1])})`)
    .attr('fill', color)
  pr.append('g').selectAll('circle').data(p.ksat).join('circle')
    .attr('cx', xR(0)).attr('cy', d => yR(d)).attr('r', 2.6)
    .attr('fill', color).attr('fill-opacity', 0.8)

  gr.append('rect')
    .attr('x', right.x0).attr('y', top)
    .attr('width', right.x1 - right.x0).attr('height', bottom - top)
    .attr('fill', 'none').attr('stroke', ink).attr('stroke-width', 1.4)

  yAxis(gr, yR, logKTicks, right.x0, 32.3)
  const kt = rotatedTitle(gr, 473.3, (top + bottom) / 2, null)
  kt.append('tspan').text('Log (conductivity (cm d')
  kt.append('tspan').attr('font-size', 12).attr('baseline-shift', '6').text('\u22121')
  kt.append('tspan').text('))')

  if (isLast) {
    xAxis(gl, xL, pFTicksLeft, bottom)
    const ax = xAxis(gr, xR, pFTicksRight, bottom)
    // the last label sits on the page edge; keep it inside
    ax.selectAll('text').filter(d => d === 4).attr('text-anchor', 'end').attr('dx', -2)
    gl.append('text').attr('x', (left.x0 + left.x1) / 2).attr('y', bottom + 78)
      .attr('text-anchor', 'middle').attr('font-size', 17.5).attr('fill', ink).text('pF')
    gr.append('text').attr('x', (right.x0 + right.x1) / 2).attr('y', bottom + 78)
      .attr('text-anchor', 'middle').attr('font-size', 17.5).attr('fill', ink).text('pF')
  }

  if (i === 0) {
    const lg = gr.append('g')
    lg.append('text').attr('x', 687.7).attr('y', 24).attr('dy', '0.35em')
      .attr('font-size', 12).attr('fill', ink).text('Data obtained by:')
    const symbols = [d3.symbol(d3.symbolCircle, 14), d3.symbol(d3.symbolTriangle, 16), d3.symbol(d3.symbolSquare, 14), d3.symbol(d3.symbolDiamond, 9)]
    const rows = lg.selectAll('g.row').data(legendLabels).join('g')
      .attr('transform', (d, k) => `translate(688,${42.7 + k * 13.9})`)
    rows.append('path').attr('d', (d, k) => symbols[k]()).attr('fill', ink)
    rows.append('text').attr('x', 11.5).attr('dy', '0.35em')
      .attr('font-size', 11.8).attr('fill', ink).text(d => d)
  }
})
</script>
</body>
</html>
